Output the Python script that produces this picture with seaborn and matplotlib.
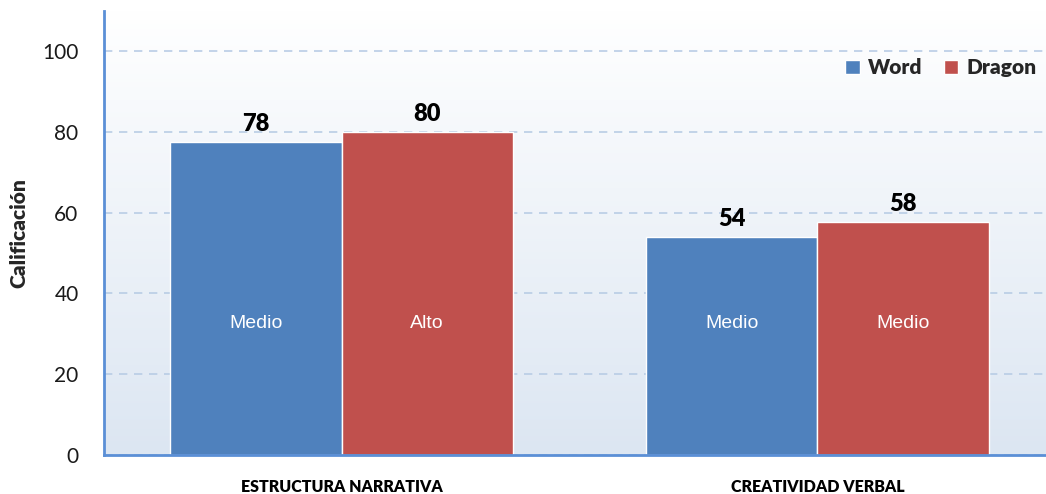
import numpy as np
import pandas as pd
import seaborn as sns
import matplotlib.pyplot as plt

# Datos
categorias = ['ESTRUCTURA NARRATIVA', 'CREATIVIDAD VERBAL']
programas = ['Word', 'Dragon']
word = [77.6, 54.1]
dragon = [80.0, 57.8]
niveles_word = ['Medio', 'Medio']
niveles_dragon = ['Alto', 'Medio']

df = pd.DataFrame({
    'categoria': categorias * 2,
    'programa': ['Word'] * 2 + ['Dragon'] * 2,
    'valor': word + dragon,
})

sns.set_style('white')
plt.rcParams['font.family'] = ['Lato', 'DejaVu Sans']

fig = plt.figure(figsize=(10.46, 4.94), dpi=100)
ax = fig.add_axes([0.099, 0.079, 0.91, 0.899])

sns.barplot(data=df, x='categoria', y='valor', hue='programa',
            palette=['#4F81BD', '#C0504D'], width=0.72, saturation=1,
            edgecolor='white', linewidth=1, ax=ax, zorder=2)

ax.set_xlim(-0.5, 1.5)
ax.set_ylim(0, 110)

# fondo degradado
grad = np.linspace(0, 1, 256).reshape(-1, 1)
cmap = sns.blend_palette(['#DCE6F2', '#FFFFFF'], as_cmap=True)
ax.imshow(grad, extent=[-0.5, 1.5, 0, 110], origin='lower', aspect='auto',
          cmap=cmap, zorder=0)

ax.set_yticks([0, 20, 40, 60, 80, 100])
ax.yaxis.grid(True, linestyle=(0, (5, 4)), color='#B9CDE5', linewidth=1.2, zorder=1)
ax.xaxis.grid(False)
ax.set_axisbelow(True)

for s in ['top', 'right']:
    ax.spines[s].set_visible(False)
for s in ['left', 'bottom']:
    ax.spines[s].set_color('#5B8FD6')
    ax.spines[s].set_linewidth(2)

ax.tick_params(axis='both', length=0)
ax.tick_params(axis='y', labelsize=15, pad=18, labelcolor='#1a1a1a')
ax.tick_params(axis='x', pad=17)
for t in ax.get_xticklabels():
    t.set_fontweight('heavy')
    t.set_fontsize(11.5)
    t.set_color('black')

ax.set_xlabel('')
ax.set_ylabel('Calificación', fontsize=15, fontweight='heavy', labelpad=10)

# etiquetas de valores
for cont in ax.containers:
    ax.bar_label(cont, fmt='%.0f', padding=5, fontsize=17, fontweight='heavy', color='black')

# niveles dentro de las barras
for cont, niveles in zip(ax.containers, [niveles_word, niveles_dragon]):
    for bar, nivel in zip(cont, niveles):
        ax.text(bar.get_x() + bar.get_width() / 2, 32.5, nivel, ha='center', va='center',
                color='white', fontsize=14, family=['Liberation Sans'], zorder=3)

ax.legend(loc='upper right', bbox_to_anchor=(1.0, 0.935), ncol=2, frameon=False,
          handlelength=0.7, handleheight=0.7, handletextpad=0.4, columnspacing=1.0,
          prop={'weight': 'heavy', 'size': 15})

plt.savefig('out.png', dpi=100)
